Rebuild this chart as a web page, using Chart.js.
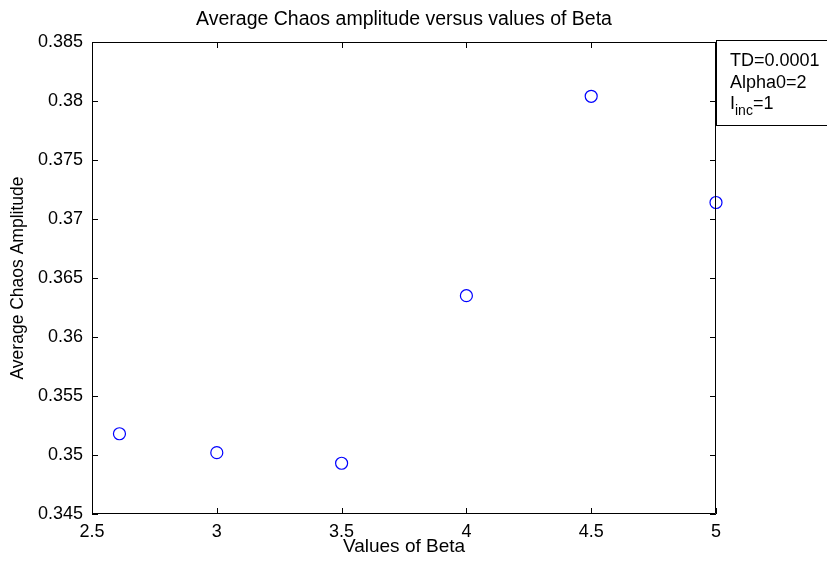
<!DOCTYPE html>
<html>
<head>
<meta charset="utf-8">
<script src="https://cdn.jsdelivr.net/npm/chart.js@4/dist/chart.umd.min.js"></script>
<style>
    body { margin: 0; background: #fff; }
    canvas { display: block; }
</style>
</head>
<body>
<canvas id="chartChaos" width="827" height="566"></canvas>
<script>
const betaValues = [2.61, 3.0, 3.5, 4.0, 4.5, 5.0];
const chaosAmplitude = [0.3518, 0.3502, 0.3493, 0.3635, 0.3804, 0.3714];
const xTickValues = [2.5, 3, 3.5, 4, 4.5, 5];
const yTickValues = [0.345, 0.35, 0.355, 0.36, 0.365, 0.37, 0.375, 0.38, 0.385];
const legendLines = ['TD=0.0001', 'Alpha0=2'];
const chartTitle = 'Average Chaos amplitude versus values of Beta';

const FONT = '"Liberation Sans", Arial, sans-serif';

// MATLAB style box with inward ticks, the title and the text annotation box
const matlabBox = {
    id: 'matlabBox',
    afterDraw(chart) {
        const { ctx, chartArea: a, scales } = chart;
        const tick = 6;
        ctx.save();
        ctx.strokeStyle = '#000';
        ctx.lineWidth = 1;
        ctx.beginPath();
        ctx.rect(a.left + 0.5, a.top + 0.5, a.right - a.left - 1, a.bottom - a.top - 1);
        scales.x.ticks.forEach(t => {
            const px = Math.round(scales.x.getPixelForValue(t.value)) + 0.5;
            ctx.moveTo(px, a.bottom);
            ctx.lineTo(px, a.bottom - tick);
            ctx.moveTo(px, a.top);
            ctx.lineTo(px, a.top + tick);
        });
        scales.y.ticks.forEach(t => {
            const py = Math.round(scales.y.getPixelForValue(t.value)) + 0.5;
            ctx.moveTo(a.left, py);
            ctx.lineTo(a.left + tick, py);
            ctx.moveTo(a.right, py);
            ctx.lineTo(a.right - tick, py);
        });
        ctx.stroke();

        // title centred over the axes
        ctx.fillStyle = '#000';
        ctx.font = '19.5px ' + FONT;
        ctx.textAlign = 'center';
        ctx.textBaseline = 'middle';
        ctx.fillText(chartTitle, (a.left + a.right) / 2, 20);

        // annotation box
        const bx = a.right + 0.5, by = 40.5;
        ctx.fillStyle = '#fff';
        ctx.fillRect(bx, by, 120, 85);
        ctx.strokeRect(bx, by, 120, 85);
        ctx.fillStyle = '#000';
        ctx.textBaseline = 'alphabetic';
        ctx.textAlign = 'left';
        ctx.font = '18px ' + FONT;
        ctx.fillText(legendLines[0], 730, 66);
        ctx.fillText(legendLines[1], 730, 88);
        ctx.fillText('I', 730, 109);
        const iw = ctx.measureText('I').width;
        ctx.font = '14px ' + FONT;
        ctx.fillText('inc', 730 + iw, 115);
        const sw = ctx.measureText('inc').width;
        ctx.font = '18px ' + FONT;
        ctx.fillText('=1', 730 + iw + sw, 109);
        ctx.restore();
    }
};

Chart.defaults.font.family = FONT;
Chart.defaults.color = '#000';

new Chart(document.getElementById('chartChaos'), {
    type: 'scatter',
    data: {
        datasets: [{
            data: betaValues.map((b, i) => ({ x: b, y: chaosAmplitude[i] })),
            borderColor: '#0000ff',
            backgroundColor: 'rgba(0,0,0,0)',
            borderWidth: 1.2,
            pointRadius: 6,
            pointHoverRadius: 6,
            clip: false
        }]
    },
    options: {
        responsive: false,
        animation: false,
        layout: {
            padding: { left: 0, right: 111, top: 42, bottom: 0 }
        },
        plugins: {
            legend: { display: false },
            tooltip: { enabled: false },
            title: { display: false }
        },
        scales: {
            x: {
                type: 'linear',
                min: 2.5,
                max: 5,
                afterBuildTicks: scale => { scale.ticks = xTickValues.map(v => ({ value: v })); },
                afterFit: scale => { scale.height = 52; },
                grid: { display: false, drawTicks: false },
                border: { display: false },
                ticks: {
                    padding: 7,
                    font: { size: 18 },
                    maxRotation: 0,
                    callback: v => String(v)
                },
                title: {
                    display: true,
                    text: 'Values of Beta',
                    font: { size: 19 },
                    padding: { top: 0, bottom: 7.6 }
                }
            },
            y: {
                min: 0.345,
                max: 0.385,
                afterBuildTicks: scale => { scale.ticks = yTickValues.map(v => ({ value: v })); },
                afterFit: scale => { scale.width = 92; },
                grid: { display: false, drawTicks: false },
                border: { display: false },
                ticks: {
                    padding: 9,
                    font: { size: 18 },
                    callback: v => String(v)
                },
                title: {
                    display: true,
                    text: 'Average Chaos Amplitude',
                    font: { size: 17.5 },
                    padding: { top: 7.5, bottom: 0 }
                }
            }
        }
    },
    plugins: [matlabBox]
});
</script>
</body>
</html>
